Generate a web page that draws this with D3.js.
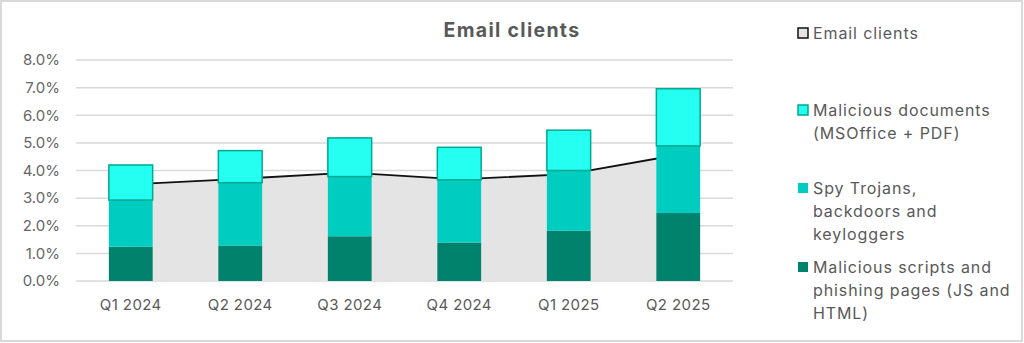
<!DOCTYPE html>
<html><head><meta charset="utf-8">
<script src="https://cdn.jsdelivr.net/npm/d3@7"></script>
<style>
html,body{margin:0;padding:0;background:#fff;}
svg{display:block;font-family:Inter,"Noto Sans",sans-serif;}
</style></head>
<body><svg id="c" width="1024" height="343"></svg>
<script>
const categories = ["Q1 2024","Q2 2024","Q3 2024","Q4 2024","Q1 2025","Q2 2025"];
const scriptsPhishing = [1.24, 1.28, 1.62, 1.39, 1.82, 2.46];
const spyTrojans = [1.69, 2.28, 2.16, 2.27, 2.18, 2.43];
const maliciousDocs = [1.27, 1.16, 1.40, 1.18, 1.46, 2.07];
const emailClients = [3.50, 3.70, 3.92, 3.68, 3.87, 4.57];
const yTicks = [0,1,2,3,4,5,6,7,8];

const svg = d3.select("#c");
// border
svg.append("rect").attr("x",1).attr("y",1).attr("width",1021).attr("height",340)
  .attr("fill","#fff").attr("stroke","#d9d9d9").attr("stroke-width",2);

const x = d3.scaleBand().domain(categories).range([76,733]).paddingInner(0.6).paddingOuter(0.3);
const y = d3.scaleLinear().domain([0,8]).range([281,60]);

// gridlines
svg.append("g").selectAll("line").data(yTicks).join("line")
  .attr("x1",76).attr("x2",733).attr("y1",d=>y(d)).attr("y2",d=>y(d))
  .attr("stroke","#d9d9d9").attr("stroke-width",1.5);

// y axis
const ya = svg.append("g").attr("transform","translate(76,0)")
  .call(d3.axisLeft(y).tickValues(yTicks).tickSize(0).tickPadding(16).tickFormat(d=>d3.format(".1f")(d)+"%"));
ya.select(".domain").remove();
ya.selectAll("text").attr("fill","#666").attr("font-size",15).attr("font-family","Inter,'Noto Sans',sans-serif");

// x axis
const xa = svg.append("g").attr("transform","translate(0,281)")
  .call(d3.axisBottom(x).tickSize(0).tickPadding(18));
xa.select(".domain").remove();
xa.selectAll("text").attr("fill","#595959").attr("font-size",15).attr("letter-spacing",0.4)
  .attr("font-family","Inter,'Noto Sans',sans-serif");

const cx = d => x(d)+x.bandwidth()/2;
// area + line
const pts = categories.map((c,i)=>({c, v:emailClients[i]}));
svg.append("path").datum(pts)
  .attr("d", d3.area().x(d=>cx(d.c)).y0(y(0)).y1(d=>y(d.v)))
  .attr("fill","#e4e4e4");
svg.append("path").datum(pts)
  .attr("d", d3.line().x(d=>cx(d.c)).y(d=>y(d.v)))
  .attr("fill","none").attr("stroke","#111").attr("stroke-width",1.8);

// stacked bars
const rows = categories.map((c,i)=>({c, a:scriptsPhishing[i], b:spyTrojans[i], d:maliciousDocs[i]}));
const stack = d3.stack().keys(["a","b","d"])(rows);
const fills = {a:"#00826c", b:"#00ccc0", d:"#24fff2"};
stack.forEach(s=>{
  svg.append("g").selectAll("rect").data(s).join("rect")
    .attr("x",d=>x(d.data.c)).attr("width",x.bandwidth())
    .attr("y",d=>y(d[1])).attr("height",d=>y(d[0])-y(d[1]))
    .attr("fill",fills[s.key])
    .attr("stroke", s.key==="d" ? "#00a98f" : "none")
    .attr("stroke-width", s.key==="d" ? 1.5 : 0);
});

// title
svg.append("text").attr("x",512).attr("y",37).attr("text-anchor","middle")
  .attr("font-size",19.5).attr("font-weight","bold").attr("letter-spacing",1.3)
  .attr("fill","#595959").text("Email clients");

// legend
const legend = [
  {lines:["Email clients"], y:33, fill:"#e4e4e4", stroke:"#111"},
  {lines:["Malicious documents","(MSOffice + PDF)"], y:110, fill:"#24fff2", stroke:"#00a98f"},
  {lines:["Spy Trojans,","backdoors and","keyloggers"], y:188, fill:"#00ccc0", stroke:null},
  {lines:["Malicious scripts and","phishing pages (JS and","HTML)"], y:267, fill:"#00826c", stroke:null}
];
const lg = svg.append("g");
legend.forEach(l=>{
  lg.append("rect").attr("x",798).attr("y",l.y-5).attr("width",10).attr("height",10)
    .attr("fill",l.fill).attr("stroke",l.stroke||"none").attr("stroke-width",l.stroke?1.5:0);
  const t = lg.append("text").attr("x",813).attr("y",l.y).attr("font-size",16).attr("letter-spacing",0.9)
    .attr("fill","#595959").attr("dominant-baseline","central");
  l.lines.forEach((s,i)=>t.append("tspan").attr("x",813).attr("dy", i===0?0:23).text(s));
});
</script></body></html>
